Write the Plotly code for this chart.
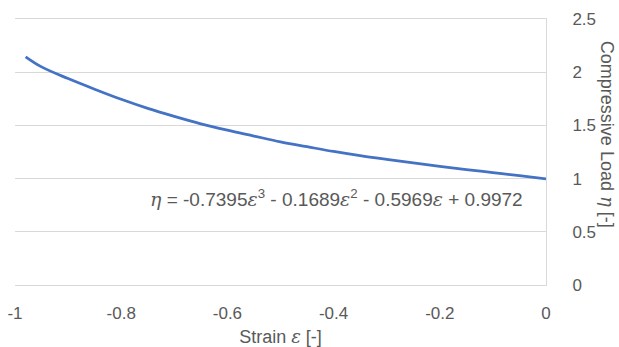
import plotly.graph_objects as go

# Strain values and compressive load
strain = [-0.98, -0.95, -0.90, -0.85, -0.80, -0.75, -0.70, -0.65, -0.60, -0.55,
          -0.50, -0.45, -0.40, -0.35, -0.30, -0.25, -0.20, -0.15, -0.10, -0.05, 0.0]
load = [2.145, 2.05, 1.94, 1.84, 1.745, 1.66, 1.585, 1.515, 1.455, 1.40,
        1.345, 1.30, 1.255, 1.215, 1.18, 1.147, 1.115, 1.085, 1.056, 1.027, 0.997]

x_ticks = [-1, -0.8, -0.6, -0.4, -0.2, 0]
x_tick_labels = ["-1", "-0.8", "-0.6", "-0.4", "-0.2", "0"]
y_ticks = [0, 0.5, 1, 1.5, 2, 2.5]
y_tick_labels = ["0", "0.5", "1", "1.5", "2", "2.5"]

SERIF = "font-family:'DejaVu Serif', serif"
equation = (f"<span style=\"{SERIF}\"><i>η</i></span> = -0.7395<span style=\"{SERIF}\"><i>ε</i></span><sup>3</sup>"
            f" - 0.1689<span style=\"{SERIF}\"><i>ε</i></span><sup>2</sup>"
            f" - 0.5969<span style=\"{SERIF}\"><i>ε</i></span> + 0.9972")

FONT = "Liberation Sans, Arial, sans-serif"
GREY = "#595959"
LINE = "#D9D9D9"

fig = go.Figure()
fig.add_trace(go.Scatter(
    x=strain, y=load, mode="lines",
    line=dict(color="#4472C4", width=2.75, shape="spline"),
    hoverinfo="skip", showlegend=False,
))

fig.update_layout(
    width=619, height=347,
    margin=dict(l=15, r=73, t=19, b=62, autoexpand=False),
    paper_bgcolor="white", plot_bgcolor="white",
    font=dict(family=FONT, size=17, color=GREY),
    xaxis=dict(
        range=[-1, 0], tickvals=x_ticks, ticktext=x_tick_labels,
        showgrid=False, zeroline=False, automargin=False,
        showline=True, linecolor=LINE, linewidth=1, mirror=True,
        ticks="", ticklabelstandoff=13,
        tickfont=dict(size=17, color=GREY),
        title=dict(text=f"Strain <span style=\"{SERIF}\"><i>ε</i></span> [-]",
                   font=dict(size=18, color=GREY), standoff=9),
    ),
    yaxis=dict(
        range=[0, 2.5], tickvals=y_ticks, ticktext=y_tick_labels,
        side="right", automargin=False,
        showgrid=True, gridcolor=LINE, gridwidth=1,
        zeroline=False,
        showline=True, linecolor=LINE, linewidth=1,
        ticks="", ticklabelstandoff=22,
        tickfont=dict(size=17, color=GREY),
    ),
    annotations=[
        dict(text=equation, xref="paper", yref="paper", x=0.960, y=0.327,
             xanchor="right", yanchor="middle", showarrow=False,
             font=dict(family=FONT, size=19, color=GREY)),
        dict(text=f"Compressive Load <span style=\"{SERIF}\"><i>η</i></span> [-]",
             xref="paper", yref="paper",
             x=1.115, y=0.568, xanchor="center", yanchor="middle",
             textangle=90, showarrow=False,
             font=dict(family=FONT, size=18, color=GREY)),
    ],
)

fig.write_html("out.html")
